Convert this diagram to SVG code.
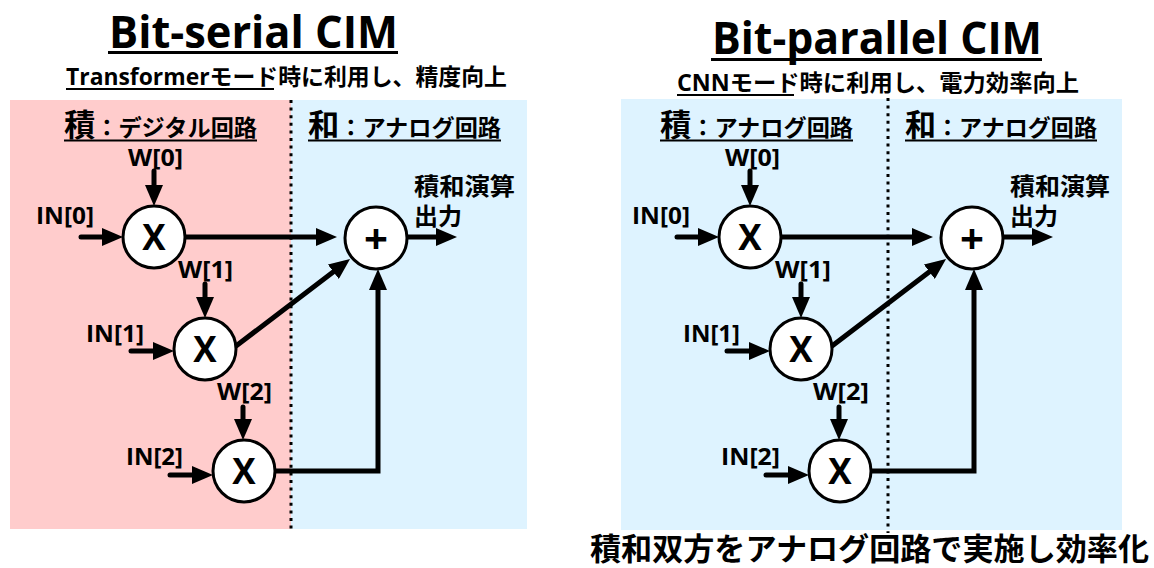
<svg xmlns="http://www.w3.org/2000/svg" width="1154" height="568" viewBox="0 0 1154 568">
<style>
text{font-family:"Open Sans","Noto Sans CJK JP",sans-serif;font-weight:bold;fill:#000}
.ttl{font-size:44px}
.sub{font-size:23px}
.hdr{font-size:23px}
.hbig{font-size:31px}
.lbl{font-size:24px}
.op{font-size:35px}
.pl{font-size:42px}
.cjk{font-size:24px}
.bot{font-size:31px}
.node{fill:#fff;stroke:#000;stroke-width:3}
.conn{fill:none;stroke:#000;stroke-width:5;stroke-linecap:round;marker-end:url(#ah)}
.ul{stroke:#000;stroke-width:2.5}
.dot{stroke:#000;stroke-width:3;stroke-dasharray:3 4.6}
</style>
<defs>
<marker id="ah" markerUnits="userSpaceOnUse" markerWidth="21" markerHeight="18" viewBox="0 0 21 18" refX="8" refY="9" orient="auto"><path d="M0,0 L21,9 L0,18 z" fill="#000"/></marker>
</defs>
<rect width="1154" height="568" fill="#fff"/>

<!-- Left panel backgrounds -->
<rect x="10" y="100" width="281" height="429" fill="#FFCCCC"/>
<rect x="291" y="100" width="236" height="429" fill="#DEF3FF"/>
<!-- Right panel background -->
<rect x="621" y="99" width="501" height="431" fill="#DEF3FF"/>

<line class="dot" x1="291" y1="100" x2="291" y2="533"/>
<line class="dot" x1="888" y1="98" x2="888" y2="533"/>

<!-- Titles -->
<g id="title-left">
<text class="ttl" x="109" y="48" textLength="289" lengthAdjust="spacingAndGlyphs">Bit-serial CIM</text>
<line class="ul" x1="108" y1="52.5" x2="398" y2="52.5" style="stroke-width:3"/>
<text class="sub" x="66" y="85" textLength="441" lengthAdjust="spacingAndGlyphs">Transformerモード時に利用し、精度向上</text>
<line class="ul" x1="66" y1="89" x2="274" y2="89" style="stroke-width:2"/>
</g>
<g id="title-right">
<text class="ttl" x="712" y="54" textLength="330" lengthAdjust="spacingAndGlyphs">Bit-parallel CIM</text>
<line class="ul" x1="711" y1="59.5" x2="1042" y2="59.5" style="stroke-width:3"/>
<text class="sub" x="677" y="91" textLength="402" lengthAdjust="spacingAndGlyphs">CNNモード時に利用し、電力効率向上</text>
<line class="ul" x1="677" y1="95" x2="794" y2="95" style="stroke-width:2"/>
</g>

<!-- Section headers -->
<g id="hdr-left-mul">
<text x="64" y="136" textLength="193" lengthAdjust="spacingAndGlyphs"><tspan class="hbig">積</tspan><tspan class="hdr">：デジタル回路</tspan></text>
<line class="ul" x1="64" y1="140.5" x2="257" y2="140.5" style="stroke-width:2"/>
</g>
<g id="hdr-left-add">
<text x="308" y="136" textLength="193" lengthAdjust="spacingAndGlyphs"><tspan class="hbig">和</tspan><tspan class="hdr">：アナログ回路</tspan></text>
<line class="ul" x1="308" y1="140.5" x2="501" y2="140.5" style="stroke-width:2"/>
</g>
<g id="hdr-right-mul">
<text x="660" y="136" textLength="193" lengthAdjust="spacingAndGlyphs"><tspan class="hbig">積</tspan><tspan class="hdr">：アナログ回路</tspan></text>
<line class="ul" x1="660" y1="140.5" x2="853" y2="140.5" style="stroke-width:2"/>
</g>
<g id="hdr-right-add">
<text x="905" y="136" textLength="192" lengthAdjust="spacingAndGlyphs"><tspan class="hbig">和</tspan><tspan class="hdr">：アナログ回路</tspan></text>
<line class="ul" x1="905" y1="140.5" x2="1097" y2="140.5" style="stroke-width:2"/>
</g>

<!-- Connectors -->
<g id="connectors">
<!-- left -->
<path class="conn" d="M81,237 H110"/>
<path class="conn" d="M154,171 V193"/>
<path class="conn" d="M185,237 H324"/>
<path class="conn" d="M407,237 H444"/>
<path class="conn" d="M205,284 V305"/>
<path class="conn" d="M131,351 H161"/>
<path class="conn" d="M236,346 L339.7,266.9"/>
<path class="conn" d="M243,407 V427"/>
<path class="conn" d="M170,475 H200"/>
<path class="conn" d="M275,471 H378 V282" style="stroke-linejoin:miter"/>
<!-- right -->
<path class="conn" d="M677,237 H706"/>
<path class="conn" d="M750,171 V193"/>
<path class="conn" d="M781,237 H920"/>
<path class="conn" d="M1003,237 H1040"/>
<path class="conn" d="M801,284 V305"/>
<path class="conn" d="M727,351 H757"/>
<path class="conn" d="M832,346 L935.7,266.9"/>
<path class="conn" d="M839,407 V427"/>
<path class="conn" d="M766,475 H796"/>
<path class="conn" d="M871,471 H974 V282" style="stroke-linejoin:miter"/>
</g>

<!-- Left nodes -->
<g id="L-mul0">
<circle class="node" cx="154" cy="237" r="31"/>
<text class="op" x="154" y="250" text-anchor="middle">X</text>
</g>
<g id="L-mul1">
<circle class="node" cx="205" cy="349" r="31"/>
<text class="op" x="205" y="362" text-anchor="middle">X</text>
</g>
<g id="L-mul2">
<circle class="node" cx="244" cy="471" r="31"/>
<text class="op" x="244" y="484" text-anchor="middle">X</text>
</g>
<g id="L-add">
<circle class="node" cx="376" cy="238" r="31"/>
<text class="pl" x="376" y="254" text-anchor="middle">+</text>
</g>
<g id="L-labels">
<text class="lbl" x="128" y="166" textLength="55" lengthAdjust="spacingAndGlyphs">W[0]</text>
<text class="lbl" x="36" y="224" textLength="58" lengthAdjust="spacingAndGlyphs">IN[0]</text>
<text class="lbl" x="178" y="278" textLength="55" lengthAdjust="spacingAndGlyphs">W[1]</text>
<text class="lbl" x="86" y="342" textLength="58" lengthAdjust="spacingAndGlyphs">IN[1]</text>
<text class="lbl" x="217" y="400" textLength="55" lengthAdjust="spacingAndGlyphs">W[2]</text>
<text class="lbl" x="126" y="465" textLength="57" lengthAdjust="spacingAndGlyphs">IN[2]</text>
<text class="cjk" x="414" y="195" textLength="101" lengthAdjust="spacingAndGlyphs">積和演算</text>
<text class="cjk" x="414" y="225">出力</text>
</g>

<!-- Right nodes -->
<g id="R-mul0">
<circle class="node" cx="750" cy="237" r="31"/>
<text class="op" x="750" y="250" text-anchor="middle">X</text>
</g>
<g id="R-mul1">
<circle class="node" cx="801" cy="349" r="31"/>
<text class="op" x="801" y="362" text-anchor="middle">X</text>
</g>
<g id="R-mul2">
<circle class="node" cx="840" cy="471" r="31"/>
<text class="op" x="840" y="484" text-anchor="middle">X</text>
</g>
<g id="R-add">
<circle class="node" cx="972" cy="238" r="31"/>
<text class="pl" x="972" y="254" text-anchor="middle">+</text>
</g>
<g id="R-labels">
<text class="lbl" x="725" y="166" textLength="55" lengthAdjust="spacingAndGlyphs">W[0]</text>
<text class="lbl" x="632" y="224" textLength="58" lengthAdjust="spacingAndGlyphs">IN[0]</text>
<text class="lbl" x="775" y="278" textLength="56" lengthAdjust="spacingAndGlyphs">W[1]</text>
<text class="lbl" x="683" y="342" textLength="57" lengthAdjust="spacingAndGlyphs">IN[1]</text>
<text class="lbl" x="813" y="400" textLength="56" lengthAdjust="spacingAndGlyphs">W[2]</text>
<text class="lbl" x="721" y="465" textLength="59" lengthAdjust="spacingAndGlyphs">IN[2]</text>
<text class="cjk" x="1010" y="195" textLength="100" lengthAdjust="spacingAndGlyphs">積和演算</text>
<text class="cjk" x="1010" y="225">出力</text>
</g>

<g id="bottom-note">
<text class="bot" x="590" y="560" textLength="559" lengthAdjust="spacingAndGlyphs">積和双方をアナログ回路で実施し効率化</text>
</g>
</svg>
